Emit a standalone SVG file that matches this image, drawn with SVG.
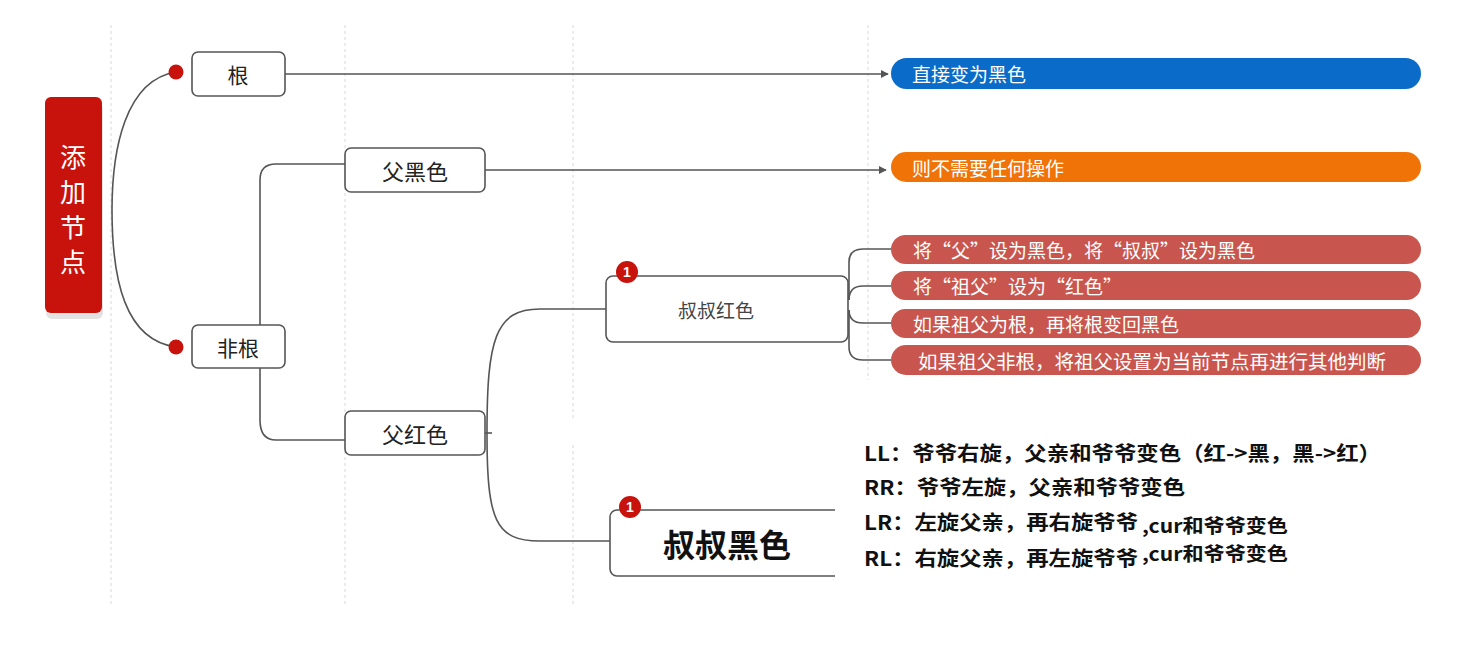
<svg xmlns="http://www.w3.org/2000/svg" width="1472" height="647" viewBox="0 0 1472 647">
<defs>
<style>
.guide{stroke:#d8d8d8;stroke-width:1;stroke-dasharray:3 3;fill:none}
.box{fill:#fff;stroke:#555;stroke-width:1.6}
.lbl{font-family:"Noto Sans CJK SC","Noto Sans",sans-serif;font-size:21px;fill:#222;text-anchor:middle;dominant-baseline:central}
.conn{fill:none;stroke:#555;stroke-width:1.6}
.pilltxt{font-family:"Noto Sans CJK SC","Noto Sans",sans-serif;font-size:19px;fill:#fff;dominant-baseline:central}
.red{fill:#c9564e}
.badge{fill:#c8120c}
.badgetxt{font-family:"Liberation Sans",sans-serif;font-size:14px;font-weight:bold;fill:#fff;text-anchor:middle;dominant-baseline:central}
.note{font-family:"Noto Sans CJK SC","Liberation Sans",sans-serif;font-weight:bold;font-size:20px;fill:#111;dominant-baseline:central}
</style>
<marker id="arr" viewBox="0 0 10 10" refX="9" refY="5" markerWidth="8" markerHeight="8" orient="auto" markerUnits="userSpaceOnUse">
<path d="M0,0 L10,5 L0,10 z" fill="#555"/>
</marker>
</defs>
<rect width="1472" height="647" fill="#fff"/>
<g id="guides">
<line class="guide" x1="111" y1="25" x2="111" y2="605"/>
<line class="guide" x1="345" y1="25" x2="345" y2="605"/>
<line class="guide" x1="573" y1="25" x2="573" y2="420"/>
<line class="guide" x1="573" y1="445" x2="573" y2="605"/>
<line class="guide" x1="868" y1="25" x2="868" y2="380"/>
</g>
<g id="connectors">
<path class="conn" d="M176,72 C125,80 112,150 112,210 C112,280 125,340 176,347"/>
<path class="conn" d="M285,74 L888,74" marker-end="url(#arr)"/>
<path class="conn" d="M260,325 L260,180 Q260,164 276,164 L345,164"/>
<path class="conn" d="M260,368 L260,420 Q260,440 276,440 L345,440"/>
<path class="conn" d="M485,170 L886,170" marker-end="url(#arr)"/>
<path class="conn" d="M485,433 L492,433"/>
<path class="conn" d="M487,433 C487,340 495,309 540,309 L606,309"/>
<path class="conn" d="M487,433 C487,520 495,541 540,541 L610,541"/>
<path class="conn" d="M849,300 L849,262 Q849,249 863,249 L891,249"/>
<path class="conn" d="M849,300 Q849,286 863,286 L891,286"/>
<path class="conn" d="M849,310 Q849,323 863,323 L891,323"/>
<path class="conn" d="M849,310 L849,347 Q849,360 863,360 L891,360"/>
</g>
<g id="root">
<rect x="46" y="103" width="57" height="216" rx="6" fill="#e3e3e3"/>
<rect x="45" y="97" width="57" height="216" rx="6" fill="#c8120c"/>
<g font-family="Noto Sans CJK SC,sans-serif" font-size="26" fill="#fff" text-anchor="middle" dominant-baseline="central">
<text x="73" y="155">添</text>
<text x="73" y="190">加</text>
<text x="73" y="225">节</text>
<text x="73" y="260">点</text>
</g>
</g>
<g id="dots">
<circle cx="176" cy="72" r="7.5" fill="#c8120c"/>
<circle cx="176" cy="347" r="7.5" fill="#c8120c"/>
</g>
<g id="n-gen">
<rect class="box" x="192" y="52" width="93" height="44" rx="6"/>
<text class="lbl" x="238" y="74">根</text>
</g>
<g id="n-feigen">
<rect class="box" x="192" y="325" width="93" height="43" rx="6"/>
<text class="lbl" x="238" y="347">非根</text>
</g>
<g id="n-fuhei">
<rect class="box" x="345" y="148" width="140" height="44" rx="6"/>
<text class="lbl" x="415" y="170" style="font-size:22px">父黑色</text>
</g>
<g id="n-fuhong">
<rect class="box" x="345" y="411" width="140" height="44" rx="6"/>
<text class="lbl" x="415" y="433" style="font-size:22px">父红色</text>
</g>
<g id="p-blue">
<rect x="891" y="58" width="530" height="31" rx="15.5" fill="#0a6cc8"/>
<text class="pilltxt" x="912" y="73.5">直接变为黑色</text>
</g>
<g id="p-orange">
<rect x="891" y="152" width="530" height="30" rx="15" fill="#f07308"/>
<text class="pilltxt" x="912" y="167">则不需要任何操作</text>
</g>
<g id="n-shushuhong">
<rect class="box" x="606" y="276" width="242" height="66" rx="7"/>
<text class="lbl" x="716" y="309" style="font-size:19px;fill:#444">叔叔红色</text>
<circle class="badge" cx="627" cy="272" r="11"/>
<text class="badgetxt" x="627" y="272">1</text>
</g>
<g id="p-red1">
<rect class="red" x="891" y="235" width="530" height="29" rx="14.5"/>
<text class="pilltxt" x="913" y="249.5">将“父”设为黑色，将“叔叔”设为黑色</text>
</g>
<g id="p-red2">
<rect class="red" x="891" y="271" width="530" height="29" rx="14.5"/>
<text class="pilltxt" x="913" y="285.5">将“祖父”设为“红色”</text>
</g>
<g id="p-red3">
<rect class="red" x="891" y="309" width="530" height="29" rx="14.5"/>
<text class="pilltxt" x="913" y="323.5">如果祖父为根，再将根变回黑色</text>
</g>
<g id="p-red4">
<rect class="red" x="891" y="345" width="530" height="30" rx="15"/>
<text class="pilltxt" x="918" y="360" style="font-size:19.5px">如果祖父非根，将祖父设置为当前节点再进行其他判断</text>
</g>
<g id="n-shushuhei">
<rect class="box" x="610" y="510" width="260" height="66" rx="7"/>
<rect x="835" y="420" width="600" height="170" fill="#fff"/>
<text class="lbl" x="727" y="543" style="font-size:32px;font-weight:bold;fill:#111">叔叔黑色</text>
<circle class="badge" cx="630" cy="507" r="11"/>
<text class="badgetxt" x="630" y="507">1</text>
</g>
<g id="notes">
<text class="note" x="864" y="452" textLength="517" lengthAdjust="spacingAndGlyphs">LL：爷爷右旋，父亲和爷爷变色（红-&gt;黑，黑-&gt;红）</text>
<text class="note" x="864" y="486" textLength="321" lengthAdjust="spacingAndGlyphs">RR：爷爷左旋，父亲和爷爷变色</text>
<text class="note" x="864" y="521" textLength="274" lengthAdjust="spacingAndGlyphs">LR：左旋父亲，再右旋爷爷</text>
<text class="note" x="1142" y="524" style="font-size:19px" textLength="146" lengthAdjust="spacingAndGlyphs">,cur和爷爷变色</text>
<text class="note" x="864" y="557" textLength="274" lengthAdjust="spacingAndGlyphs">RL：右旋父亲，再左旋爷爷</text>
<text class="note" x="1142" y="552" style="font-size:19px" textLength="146" lengthAdjust="spacingAndGlyphs">,cur和爷爷变色</text>
</g>
</svg>
